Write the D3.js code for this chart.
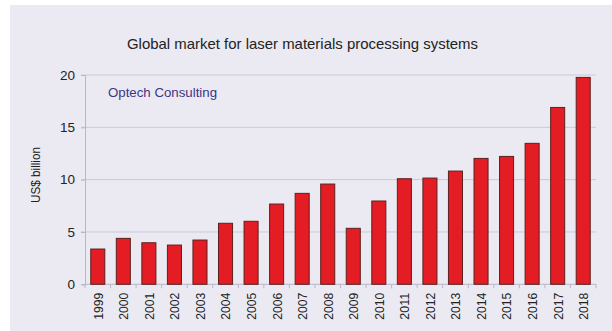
<!DOCTYPE html>
<html><head><meta charset="utf-8">
<script src="https://cdn.jsdelivr.net/npm/d3@7"></script>
<style>body{margin:0;background:#fff;}svg{display:block;font-family:"Liberation Sans",Arial,sans-serif;}</style>
</head><body>
<script>
const years = ["1999","2000","2001","2002","2003","2004","2005","2006","2007","2008","2009","2010","2011","2012","2013","2014","2015","2016","2017","2018"];
const values = [3.37,4.39,3.97,3.75,4.23,5.83,6.02,7.67,8.69,9.58,5.35,7.96,10.09,10.15,10.82,12.03,12.22,13.47,16.9,19.77];
const yTicks = [0,5,10,15,20];
const title = "Global market for laser materials processing systems";
const source = "Optech Consulting";
const yLabel = "US$ billion";

const W = 612, H = 331;
const svg = d3.select("body").append("svg").attr("width", W).attr("height", H);
svg.append("rect").attr("x",10).attr("y",5).attr("width",W-10).attr("height",H-5).attr("fill","#ebeaf2");

const m = {left:85, right:596, top:75, bottom:284.3};
const x = d3.scaleBand().domain(years).range([m.left, m.right]).paddingInner(0.45).paddingOuter(0.225);
const y = d3.scaleLinear().domain([0,20]).range([m.bottom, m.top]);

// gridlines
svg.append("g").selectAll("line").data(yTicks.filter(d=>d>0)).join("line")
  .attr("x1", m.left-4).attr("x2", m.right).attr("y1", d=>y(d)).attr("y2", d=>y(d))
  .attr("stroke","#c9c8da").attr("stroke-width",1);

// y axis
const ya = svg.append("g").attr("transform",`translate(${m.left},0)`)
  .call(d3.axisLeft(y).tickValues(yTicks).tickSize(4).tickPadding(6));
ya.select(".domain").attr("stroke","#b8b7c8");
ya.selectAll(".tick line").attr("stroke","#b8b7c8");
ya.selectAll("text").attr("font-size",13.5).attr("fill","#222").attr("font-family","Liberation Sans, Arial, sans-serif");

// x axis
const xa = svg.append("g").attr("transform",`translate(0,${m.bottom})`)
  .call(d3.axisBottom(x).tickSize(0).tickPadding(8));
xa.select(".domain").attr("stroke","#b8b7c8").attr("d",`M${m.left},0H${m.right}`);
xa.selectAll("text").attr("font-size",13.5).attr("fill","#222")
  .attr("font-family","Liberation Sans, Arial, sans-serif")
  .attr("transform","rotate(-90)").attr("text-anchor","end").attr("dy","0.36em").attr("y",0).attr("x",-8.5)
  .attr("textLength",27).attr("lengthAdjust","spacingAndGlyphs");
// band boundary ticks
const bounds = years.map(d=>x(d)-x.step()*x.paddingInner()/2).concat([m.right]);
svg.append("g").selectAll("line").data(bounds).join("line")
  .attr("x1",d=>d).attr("x2",d=>d).attr("y1",m.bottom).attr("y2",m.bottom+4)
  .attr("stroke","#b8b7c8");

// bars
svg.append("g").selectAll("rect").data(years).join("rect")
  .attr("x", d=>x(d)).attr("width", x.bandwidth())
  .attr("y", (d,i)=>y(values[i])).attr("height",(d,i)=>y(0)-y(values[i]))
  .attr("fill","#e41c23").attr("stroke","#5c2020").attr("stroke-width",1);

svg.append("text").attr("x",127).attr("y",48.5)
  .attr("font-size",15).attr("fill","#222")
  .attr("textLength",351).attr("lengthAdjust","spacingAndGlyphs").text(title);
svg.append("text").attr("x",108).attr("y",97).attr("font-size",13)
  .attr("fill","#3d3584").attr("textLength",109).attr("lengthAdjust","spacingAndGlyphs").text(source);
svg.append("text").attr("transform","rotate(-90)").attr("x",-175).attr("y",39.5)
  .attr("text-anchor","middle").attr("font-size",13.5).attr("fill","#222")
  .attr("textLength",56).attr("lengthAdjust","spacingAndGlyphs").text(yLabel);
</script>
</body></html>
